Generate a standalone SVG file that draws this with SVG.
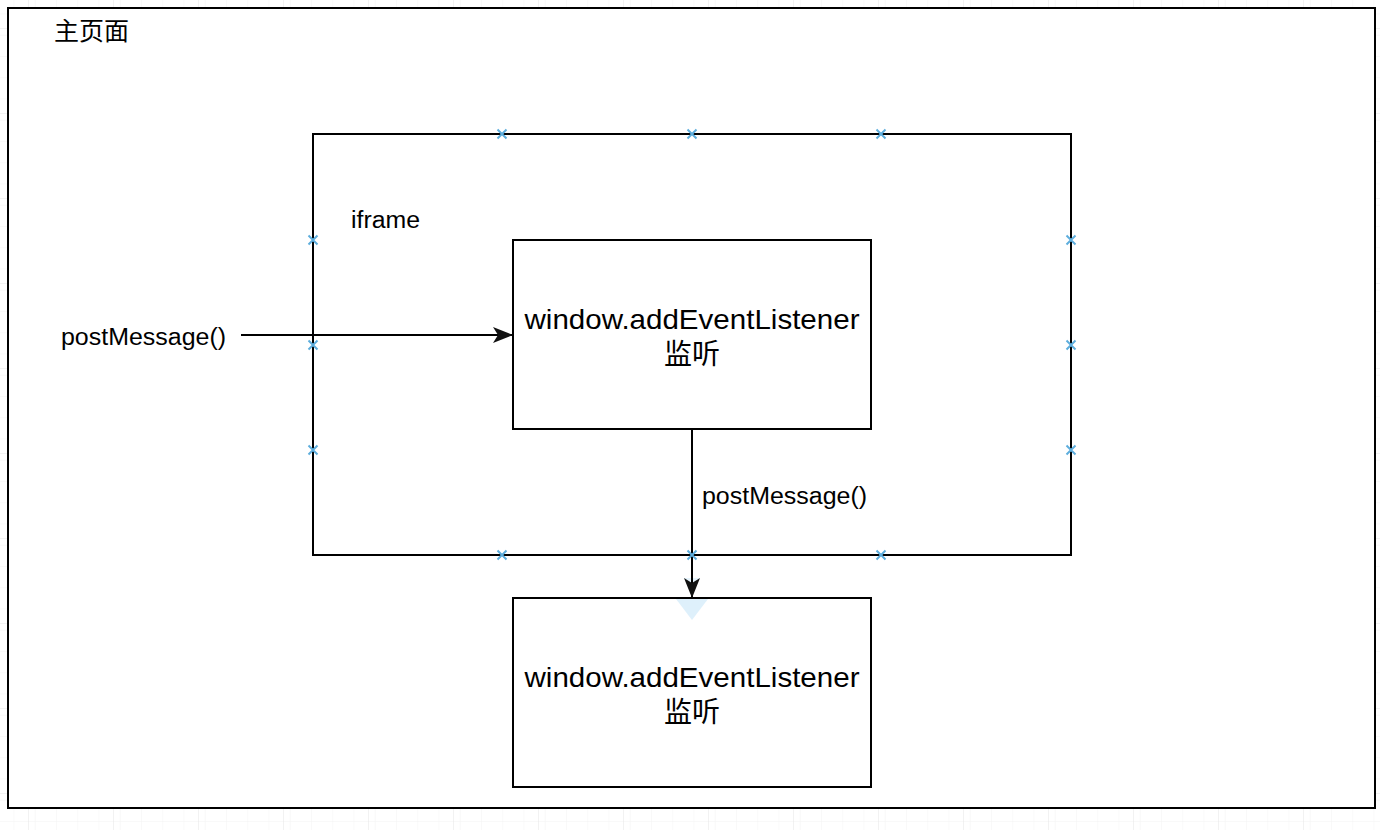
<svg xmlns="http://www.w3.org/2000/svg" width="1380" height="830" viewBox="0 0 1380 830">
  <style>
    .box { fill: #ffffff; stroke: #000000; stroke-width: 2; }
    .frame { fill: none; stroke: #000000; stroke-width: 2; }
    .conn { fill: none; stroke: #000000; stroke-width: 2; }
    .lbl { font-family: "Liberation Sans", Arial, "Noto Sans CJK SC", sans-serif; fill: #000000; }
    .cjk { font-family: "Liberation Sans", "Noto Sans CJK SC", sans-serif; fill: #000000; }
    .mk { stroke: #5eaedd; stroke-width: 2; fill: none; }
  </style>
  <defs>
    <pattern id="minor" x="28" y="28" width="21.25" height="21.25" patternUnits="userSpaceOnUse">
      <path d="M 0 0 L 21.25 0 M 0 0 L 0 21.25" stroke="#f3f3f3" stroke-width="1" fill="none"/>
    </pattern>
    <pattern id="major" x="28" y="28" width="85" height="85" patternUnits="userSpaceOnUse">
      <rect width="85" height="85" fill="url(#minor)"/>
      <path d="M 0 0 L 85 0 M 0 0 L 0 85" stroke="#e6e6e6" stroke-width="1" fill="none"/>
    </pattern>
    <marker id="arrow" viewBox="0 0 20 16" refX="20" refY="8" markerWidth="20" markerHeight="16" markerUnits="userSpaceOnUse" orient="auto">
      <path d="M 0 0 L 20 8 L 0 16 L 5 8 Z" fill="#111111"/>
    </marker>
    <g id="x">
      <path d="M -4.5 -4.5 L 4.5 4.5 M -4.5 4.5 L 4.5 -4.5"/>
    </g>
  </defs>

  <rect x="0" y="0" width="1380" height="830" fill="#ffffff"/>
  <rect x="0" y="0" width="1380" height="830" fill="url(#major)"/>

  <g id="main-page">
    <rect class="box" x="8" y="8" width="1367" height="800"/>
    <text class="cjk" x="54" y="40" font-size="25">主页面</text>
  </g>

  <g id="iframe">
    <rect class="frame" x="313" y="134" width="758" height="421"/>
    <text class="lbl" x="351" y="228" font-size="23" textLength="69" lengthAdjust="spacingAndGlyphs">iframe</text>
  </g>

  <g id="iframe-listener">
    <rect class="box" x="513" y="240" width="358" height="189"/>
    <text class="lbl" x="692" y="329" font-size="28" text-anchor="middle" textLength="335" lengthAdjust="spacingAndGlyphs">window.addEventListener</text>
    <text class="cjk" x="692" y="364" font-size="28" text-anchor="middle">监听</text>
  </g>

  <g id="main-listener">
    <rect class="box" x="513" y="598" width="358" height="189"/>
    <text class="lbl" x="692" y="687" font-size="28" text-anchor="middle" textLength="335" lengthAdjust="spacingAndGlyphs">window.addEventListener</text>
    <text class="cjk" x="692" y="722" font-size="28" text-anchor="middle">监听</text>
  </g>

  <g id="hover-hint">
    <path d="M 676 599 L 708 599 L 692 620 Z" fill="#d6ecfa" opacity="0.8"/>
    <path d="M 684 578 L 700 578 L 692 590 Z" fill="#d6ecfa" opacity="0.6"/>
  </g>

  <g id="connectors">
    <line class="conn" x1="241" y1="335" x2="513" y2="335" marker-end="url(#arrow)"/>
    <line class="conn" x1="692" y1="429" x2="692" y2="598" marker-end="url(#arrow)"/>
    <text class="lbl" x="61" y="345" font-size="23" textLength="165" lengthAdjust="spacingAndGlyphs">postMessage()</text>
    <text class="lbl" x="702" y="504" font-size="23" textLength="165" lengthAdjust="spacingAndGlyphs">postMessage()</text>
  </g>

  <g id="connection-points" class="mk">
    <use href="#x" x="502" y="134"/>
    <use href="#x" x="692" y="134"/>
    <use href="#x" x="881" y="134"/>
    <use href="#x" x="502" y="555"/>
    <use href="#x" x="692" y="555"/>
    <use href="#x" x="881" y="555"/>
    <use href="#x" x="313" y="240"/>
    <use href="#x" x="313" y="345"/>
    <use href="#x" x="313" y="450"/>
    <use href="#x" x="1071" y="240"/>
    <use href="#x" x="1071" y="345"/>
    <use href="#x" x="1071" y="450"/>
  </g>
</svg>
